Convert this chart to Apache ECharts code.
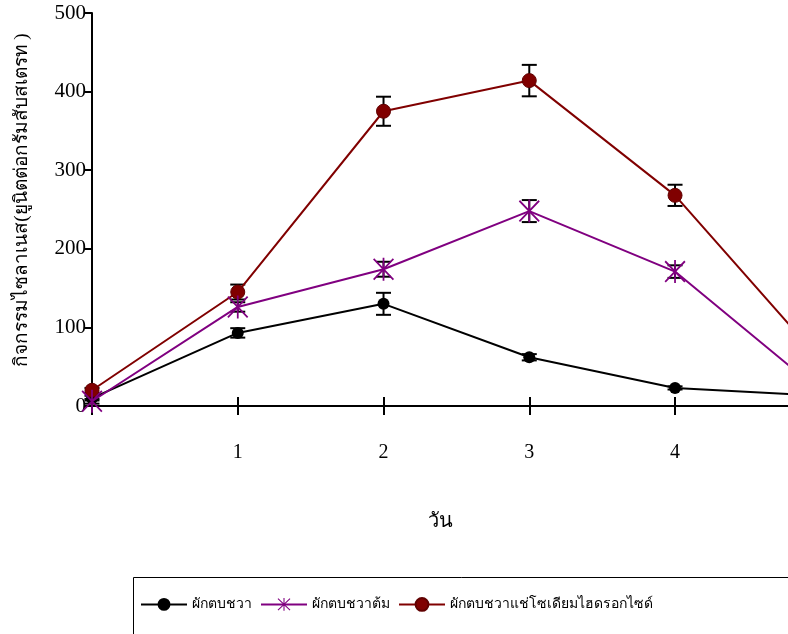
<!DOCTYPE html>
<html>
<head>
<meta charset="utf-8">
<script src="https://cdn.jsdelivr.net/npm/echarts@6/dist/echarts.min.js"></script>
<style>
html,body{margin:0;padding:0;background:#fff;}
#chart{width:788px;height:634px;}
</style>
</head>
<body>
<div id="chart"></div>
<script>
// ---- data ----
const days = [0, 1, 2, 3, 4, 5];
const xTickValues = [0, 1, 2, 3, 4];
const xLabelValues = [1, 2, 3, 4];
const yTicks = [0, 100, 200, 300, 400, 500];
const seriesNames = ['ผักตบชวา', 'ผักตบชวาต้ม', 'ผักตบชวาแช่โซเดียมไฮดรอกไซด์'];
const rawValues = [10, 93, 130, 62, 23, 13];
const boiledValues = [6, 126, 174, 248, 171, 18];
const naohValues = [20, 145, 375, 414, 268, 58];
const rawErr = [3, 6, 14, 4, 2, 0];
const boiledErr = [3, 6, 9.5, 14, 8, 0];
const naohErr = [3, 9.5, 18.5, 20, 13.5, 0];
const xAxisTitle = 'วัน';
const yAxisTitle = 'กิจกรรมไซลาเนส(ยูนิตต่อกรัมสับสเตรท )';
const xVisibleMax = 4.775; // chart is cut at the right edge of the picture

const FONT = '"Liberation Serif", "Times New Roman", serif';
const STAR = 'path://M9.2 0 L10.8 0 L10.8 20 L9.2 20 Z M1.57 0.43 L19.57 18.43 L18.43 19.57 L0.43 1.57 Z M19.57 1.57 L1.57 19.57 L0.43 18.43 L18.43 0.43 Z';

function pts(vals){ return days.map((d,i)=>[d, vals[i]]); }
function errPts(vals, errs){ return days.map((d,i)=>[d, vals[i], errs[i]]); }

function errRender(params, api){
  const x = api.value(0), y = api.value(1), e = api.value(2);
  if (!e || x > xVisibleMax) return null;
  const t = api.coord([x, y + e]);
  const b = api.coord([x, y - e]);
  const w = 7.5;
  const st = {stroke:'#000', lineWidth:2};
  return {type:'group', children:[
    {type:'line', shape:{x1:t[0], y1:t[1], x2:b[0], y2:b[1]}, style:st},
    {type:'line', shape:{x1:t[0]-w, y1:t[1], x2:t[0]+w, y2:t[1]}, style:st},
    {type:'line', shape:{x1:b[0]-w, y1:b[1], x2:b[0]+w, y2:b[1]}, style:st}
  ]};
}

const chart = echarts.init(document.getElementById('chart'), null, {renderer:'canvas'});
const option = {
  backgroundColor:'#fff',
  animation:false,
  grid:{left:92, top:13, bottom:228, right:0, containLabel:false},
  xAxis:[{
    type:'value', min:0, max:xVisibleMax,
    axisLine:{show:true, onZero:false, lineStyle:{color:'#000', width:2}},
    axisTick:{show:true, length:9, customValues:xTickValues, lineStyle:{color:'#000', width:2}},
    axisLabel:{show:true, margin:37, color:'#000', fontFamily:FONT, fontSize:20, customValues:xLabelValues},
    splitLine:{show:false}
  },{
    type:'value', min:0, max:xVisibleMax, position:'bottom',
    axisLine:{show:false},
    axisTick:{show:true, inside:true, length:9, customValues:xLabelValues, lineStyle:{color:'#000', width:2}},
    axisLabel:{show:false},
    splitLine:{show:false}
  }],
  yAxis:{
    type:'value', min:yTicks[0], max:yTicks[yTicks.length-1], interval:100,
    axisLine:{show:true, lineStyle:{color:'#000', width:2}},
    axisTick:{show:true, length:7, lineStyle:{color:'#000', width:2}},
    axisLabel:{color:'#000', fontFamily:FONT, fontSize:21, margin:6},
    splitLine:{show:false}
  },
  legend:{
    left:140, top:597, padding:0,
    data:[seriesNames[0], seriesNames[1], seriesNames[2]],
    itemWidth:46, itemHeight:16, itemGap:8,
    textStyle:{color:'#000', fontFamily:FONT, fontSize:14}
  },
  graphic:[
    {type:'rect', shape:{x:133.5, y:577.5, width:700, height:100}, style:{fill:'none', stroke:'#000', lineWidth:1}, z:0},
    {type:'text', x:440, y:522, style:{text:xAxisTitle, fill:'#000', font:'20px ' + FONT, textAlign:'center', textVerticalAlign:'middle'}},
    {type:'text', x:22, y:200, rotation:Math.PI/2, style:{text:yAxisTitle, fill:'#000', font:'19px ' + FONT, textAlign:'center', textVerticalAlign:'middle'}}
  ],
  series:[
    {type:'custom', renderItem:errRender, data:errPts(rawValues, rawErr), encode:{x:0,y:1}, z:1, silent:true},
    {type:'custom', renderItem:errRender, data:errPts(boiledValues, boiledErr), encode:{x:0,y:1}, z:1, silent:true},
    {type:'custom', renderItem:errRender, data:errPts(naohValues, naohErr), encode:{x:0,y:1}, z:1, silent:true},
    {name:seriesNames[0], type:'line', data:pts(rawValues), z:3, clip:true,
      symbol:'circle', symbolSize:12, showAllSymbol:true,
      lineStyle:{color:'#000', width:2}, itemStyle:{color:'#000', borderColor:'#000', borderWidth:0}},
    {name:seriesNames[2], type:'line', data:pts(naohValues), z:4, clip:true,
      symbol:'circle', symbolSize:14, showAllSymbol:true,
      lineStyle:{color:'#800000', width:2}, itemStyle:{color:'#800000', borderColor:'#600000', borderWidth:1}},
    {name:seriesNames[1], type:'line', data:pts(boiledValues), z:5, clip:true,
      symbol:STAR, symbolSize:[21,23], showAllSymbol:true,
      lineStyle:{color:'#800080', width:2}, itemStyle:{color:'#800080', borderWidth:0}}
  ]
};
chart.setOption(option);
</script>
</body>
</html>
